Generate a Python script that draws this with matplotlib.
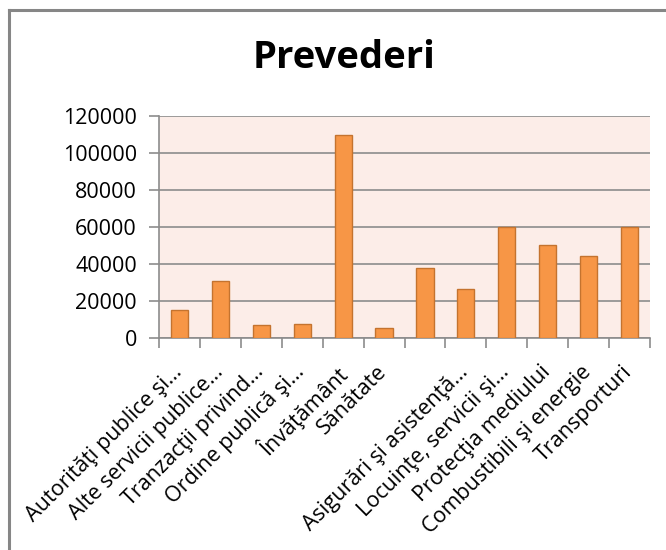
import matplotlib
matplotlib.use("Agg")
from matplotlib import pyplot as plt
from matplotlib.transforms import ScaledTranslation
import numpy as np

plt.rcParams["font.family"] = ["Open Sans", "DejaVu Sans"]

categories = [
    "Autorităţi publice şi…",
    "Alte servicii publice…",
    "Tranzacţii privind…",
    "Ordine publică şi…",
    "Învăţământ",
    "Sănătate",
    "",
    "Asigurări şi asistenţă…",
    "Locuinţe, servicii şi…",
    "Protecţia mediului",
    "Combustibili şi energie",
    "Transporturi",
]
values = [15000, 31000, 7000, 7500, 110000, 5500, 38000, 26500, 60000, 50500, 44500, 60000]
yticks = [0, 20000, 40000, 60000, 80000, 100000, 120000]

fig = plt.figure(figsize=(6.66, 5.5), dpi=100)
ax = fig.add_axes([159 / 666, 1 - 338 / 550, 491 / 666, 222 / 550])

# frame around the chart (only top and left show in the crop)
fig.add_artist(plt.Line2D([9 / 666, 9 / 666], [0, 1 - 10 / 550], color="#868686", lw=2.2,
                          transform=fig.transFigure))
fig.add_artist(plt.Line2D([9 / 666, 1], [1 - 10 / 550, 1 - 10 / 550], color="#868686", lw=2.2,
                          transform=fig.transFigure))

x = np.arange(len(values))
ax.set_facecolor("#FCEDE8")
ax.bar(x, values, width=0.42, color="#F79646", edgecolor="#C4732F", linewidth=1.0, zorder=3)

ax.set_xlim(-0.5, len(values) - 0.5)
ax.set_ylim(0, 120000)
ax.set_yticks(yticks)
ax.set_yticklabels([str(v) for v in yticks], fontsize=15.5)
ax.yaxis.grid(True, color="#8C8C8C", linewidth=1.2, zorder=1)
ax.set_axisbelow(True)

ax.set_xticks(x)
ax.set_xticklabels(categories, rotation=45, ha="right", rotation_mode="anchor", fontsize=15.5)
ax.tick_params(axis="x", length=0, pad=17)
shift = ScaledTranslation(-8 / 100, 0, fig.dpi_scale_trans)
for lbl in ax.get_xticklabels():
    lbl.set_transform(lbl.get_transform() + shift)
ax.set_xticks(np.arange(len(values) + 1) - 0.5, minor=True)
ax.tick_params(axis="x", which="minor", length=7, color="#8C8C8C", width=1.2)
ax.tick_params(axis="y", length=7, color="#8C8C8C", width=1.2, pad=9)

for side in ["top", "right"]:
    ax.spines[side].set_visible(False)
ax.spines["left"].set_color("#8C8C8C")
ax.spines["bottom"].set_color("#8C8C8C")
ax.spines["left"].set_linewidth(1.2)
ax.spines["bottom"].set_linewidth(1.2)

fig.text(344 / 666, 1 - 58 / 550, "Prevederi", ha="center", va="center", fontsize=27.5,
         fontweight="bold")

fig.savefig("out.png", dpi=100, facecolor="white")
